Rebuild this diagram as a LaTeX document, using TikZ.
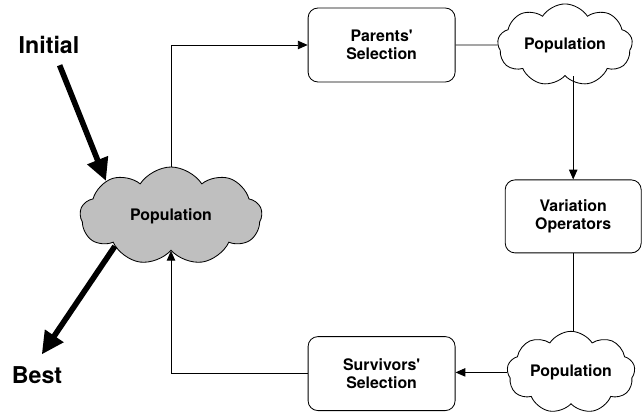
\documentclass[tikz,border=0pt]{standalone}
\usepackage{fontspec}
\setsansfont{TeX Gyre Heros}
\usetikzlibrary{shapes.symbols,arrows.meta}

\colorlet{colorPOP}{black!25}
\colorlet{colorLINE}{black}
\tikzset{
   every path/.style={>={Triangle[length=7pt,width=6pt]}},
   op/.style={draw=colorLINE,rounded corners=7pt,minimum width=3.675cm,minimum height=1.85cm,
     align=center,font=\sffamily\bfseries\fontsize{11.3}{12.5}\selectfont,line width=0.6pt},
   pop/.style={draw=colorLINE,cloud,cloud puffs=9,cloud puff arc=115,aspect=1.8,inner sep=0pt,
     font=\sffamily\bfseries\fontsize{11.3}{12.5}\selectfont,line width=0.6pt},
   flow/.style={->,color=colorLINE,line width=0.6pt},
   link/.style={-,color=colorLINE,line width=0.6pt},
   io/.style={-{Triangle[length=16pt,width=15pt]},color=colorLINE,line width=4pt},
   lbl/.style={font=\sffamily\bfseries\fontsize{16.5}{19}\selectfont}
}
\newcommand{\dflow}[2]{\draw[flow] (#1) -- (#2)}
\newcommand{\dlink}[2]{\draw[link] (#1) -- (#2)}
\newcommand{\q}{\textquotesingle}

\begin{document}
\begin{tikzpicture}[yscale=1,xscale=1]
      \useasboundingbox (0,0) rectangle (16.075,10.35);

      \node[pop,fill=colorPOP,minimum width=4.55cm,minimum height=2.45cm] (P0) at (4.275,4.95) {Population};
      \node[lbl] (IN) at (1.225,9.225) {Initial};
      \node[lbl] (BE) at (0.925,0.975) {Best};
      \draw[io,shorten <=5pt] ([xshift=0.2cm]IN.south) -- (P0.north west);
      \draw[io,shorten >=6pt] (P0.south west) -- (BE.north);

      \node[op] (PS) at (9.54,9.225) {Parents\q\\Selection};
      \draw[flow] (P0.north) |- (PS.west);
      \node[pop,minimum width=3.375cm,minimum height=2cm] (P1) at (14.125,9.225) {Population};
      \dlink{PS.east}{P1.west};

      \node[op,minimum width=3.4cm,minimum height=1.825cm] (VO) at (14.33,4.94) {Variation\\Operators};
      \dflow{P1.south -| VO.north}{VO.north};
      \node[pop,minimum width=3.2cm,minimum height=1.975cm] (P2) at (14.275,1.04) {Population};
      \dlink{VO.south}{VO.south |- P2.north};

      \node[op] (SS) at (9.54,1.01) {Survivors\q\\Selection};
      \dflow{P2.west}{P2.west -| SS.east};
      % back to the pool
      \draw[flow] (SS.west) -| (P0.south);
    \end{tikzpicture}
\end{document}
